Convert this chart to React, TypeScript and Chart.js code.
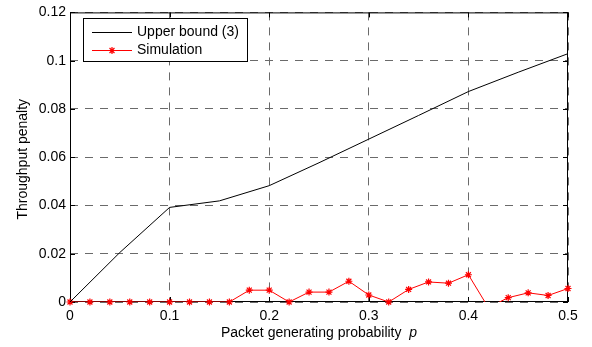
import React, { useEffect, useRef } from "react";
import { Chart, registerables } from "chart.js";

Chart.register(...registerables);

const boundX = [0, 0.05, 0.1, 0.15, 0.2, 0.25, 0.3, 0.35, 0.4, 0.45, 0.5];
const boundY = [0, 0.0205, 0.0392, 0.0419, 0.0482, 0.0577, 0.0675, 0.0773, 0.0872, 0.0952, 0.1029];

const simX = [0, 0.02, 0.04, 0.06, 0.08, 0.1, 0.12, 0.14, 0.16, 0.18, 0.2, 0.22, 0.24, 0.26, 0.28, 0.3, 0.32, 0.34, 0.36, 0.38, 0.4, 0.42, 0.44, 0.46, 0.48, 0.5];
const simY = [0, 0, 0, 0, 0, 0, 0, 0, 0, 0.0049, 0.0049, 0, 0.0041, 0.0041, 0.0086, 0.0029, 0, 0.0052, 0.0083, 0.0078, 0.0113, -0.0023, 0.0018, 0.0038, 0.0027, 0.0056];

const xTickLabels = ["0", "0.1", "0.2", "0.3", "0.4", "0.5"];
const yTickLabels = ["0", "0.02", "0.04", "0.06", "0.08", "0.1", "0.12"];

const seriesNames = ["Upper bound (3)", "Simulation"];
const xTitle = "Packet generating probability";
const xTitleVar = "p";
const yTitle = "Throughput penalty";

const FONT = '"Liberation Sans", Arial, Helvetica, sans-serif';

const framePlugin = {
  id: "frame",
  beforeDatasetsDraw(chart: any) {
    const { ctx, chartArea: a, scales } = chart;
    ctx.save();
    ctx.strokeStyle = "#000";
    ctx.lineWidth = 1;
    ctx.strokeRect(a.left + 0.5, a.top + 0.5, a.right - a.left - 1, a.bottom - a.top - 1);
    ctx.beginPath();
    const tl = 5;
    scales.y.ticks.forEach((t: any) => {
      const py = Math.round(scales.y.getPixelForValue(t.value)) + 0.5;
      ctx.moveTo(a.left, py);
      ctx.lineTo(a.left + tl, py);
      ctx.moveTo(a.right, py);
      ctx.lineTo(a.right - tl, py);
    });
    scales.x.ticks.forEach((t: any) => {
      const px = Math.round(scales.x.getPixelForValue(t.value)) + 0.5;
      ctx.moveTo(px, a.bottom);
      ctx.lineTo(px, a.bottom - tl);
      ctx.moveTo(px, a.top);
      ctx.lineTo(px, a.top + tl);
    });
    ctx.stroke();
    ctx.restore();
  },
  afterDatasetsDraw(chart: any) {
    const { ctx, chartArea: a } = chart;
    ctx.save();
    // legend
    const bx = 83, by = 18, bw = 164, bh = 43;
    ctx.fillStyle = "#fff";
    ctx.fillRect(bx, by, bw, bh);
    ctx.strokeStyle = "#000";
    ctx.lineWidth = 1;
    ctx.strokeRect(bx + 0.5, by + 0.5, bw, bh);
    ctx.beginPath();
    ctx.strokeStyle = "#000";
    ctx.moveTo(92, 32.5);
    ctx.lineTo(132, 32.5);
    ctx.stroke();
    ctx.beginPath();
    ctx.strokeStyle = "#ff0000";
    ctx.moveTo(92, 50.5);
    ctx.lineTo(132, 50.5);
    ctx.stroke();
    // star marker
    const cx = 112, cy = 50.5, r = 3.5;
    ctx.beginPath();
    ctx.lineWidth = 1.2;
    ctx.moveTo(cx - r, cy);
    ctx.lineTo(cx + r, cy);
    ctx.moveTo(cx, cy - r);
    ctx.lineTo(cx, cy + r);
    const d = r * Math.SQRT1_2;
    ctx.moveTo(cx - d, cy - d);
    ctx.lineTo(cx + d, cy + d);
    ctx.moveTo(cx - d, cy + d);
    ctx.lineTo(cx + d, cy - d);
    ctx.stroke();
    ctx.fillStyle = "#000";
    ctx.font = "14px " + FONT;
    ctx.textAlign = "left";
    ctx.textBaseline = "middle";
    ctx.fillText(seriesNames[0], 137, 32);
    ctx.fillText(seriesNames[1], 137, 50);

    // x title
    const main = xTitle + "  ";
    ctx.font = "14px " + FONT;
    const w1 = ctx.measureText(main).width;
    ctx.font = "italic 14px " + FONT;
    const w2 = ctx.measureText(xTitleVar).width;
    const cxm = (a.left + a.right) / 2;
    const sx = cxm - (w1 + w2) / 2;
    ctx.textAlign = "left";
    ctx.textBaseline = "middle";
    ctx.font = "14px " + FONT;
    ctx.fillText(main, sx, 333);
    ctx.font = "italic 14px " + FONT;
    ctx.fillText(xTitleVar, sx + w1, 333);

    // y title
    ctx.translate(23.5, (a.top + a.bottom) / 2 + 2);
    ctx.rotate(-Math.PI / 2);
    ctx.font = "14px " + FONT;
    ctx.textAlign = "center";
    ctx.textBaseline = "middle";
    ctx.fillText(yTitle, 0, 0);
    ctx.restore();
  },
};

export default function App() {
  const ref = useRef<HTMLCanvasElement | null>(null);
  useEffect(() => {
    if (!ref.current) return;
    const boundPts = boundX.map((x, i) => ({ x, y: boundY[i] }));
    const simPts = simX.map((x, i) => ({ x, y: simY[i] }));
    const chart = new Chart(ref.current, {
      type: "line",
      data: {
        datasets: [
          {
            label: seriesNames[0],
            data: boundPts,
            borderColor: "#000",
            borderWidth: 1,
            pointRadius: 0,
            tension: 0,
          },
          {
            label: seriesNames[1],
            data: simPts,
            borderColor: "#ff0000",
            borderWidth: 1,
            pointRadius: 0,
            tension: 0,
          },
          {
            label: seriesNames[1] + " markers",
            data: simPts,
            showLine: false,
            borderColor: "#ff0000",
            backgroundColor: "#ff0000",
            pointStyle: "star",
            pointBorderWidth: 1.2,
            pointRadius: (c: any) => (c.raw && c.raw.y < 0 ? 0 : 3.5),
            clip: false,
          } as any,
        ],
      },
      options: {
        animation: false,
        responsive: false,
        devicePixelRatio: 1,
        layout: { padding: { top: 8, right: 24, left: 0, bottom: 0 } },
        plugins: { legend: { display: false }, tooltip: { enabled: false } },
        scales: {
          x: {
            type: "linear",
            min: 0,
            max: 0.5,
            ticks: {
              stepSize: 0.1,
              autoSkip: false,
              maxRotation: 0,
              padding: 6,
              color: "#000",
              font: { family: FONT, size: 14 },
              callback: (_v: any, i: number) => xTickLabels[i],
            },
            grid: { color: "#6a6a6a", lineWidth: 1, drawTicks: false },
            border: { display: false, dash: [8, 7] },
            afterFit: (s: any) => {
              s.height = 45;
            },
          },
          y: {
            type: "linear",
            min: 0,
            max: 0.12,
            ticks: {
              stepSize: 0.02,
              autoSkip: false,
              padding: 4,
              color: "#000",
              font: { family: FONT, size: 14 },
              callback: (_v: any, i: number) => yTickLabels[i],
            },
            grid: { color: "#6a6a6a", lineWidth: 1, drawTicks: false },
            border: { display: false, dash: [8, 7] },
            afterFit: (s: any) => {
              s.width = 70;
            },
          },
        },
      } as any,
      plugins: [framePlugin],
    });
    return () => chart.destroy();
  }, []);
  return (
    <div style={{ position: "fixed", left: 0, top: 0, width: 592, height: 347, background: "#fff" }}>
      <canvas ref={ref} width={592} height={347} style={{ display: "block" }} />
    </div>
  );
}
